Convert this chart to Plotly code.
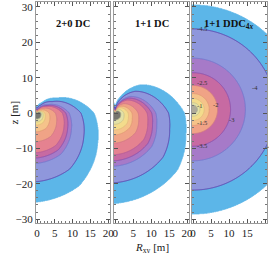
import numpy as np
import plotly.graph_objects as go

# ---------------- data ----------------
titles = ["2+0 DC", "1+1 DC", "1+1 DDC<sub>4<i>x</i></sub>"]
x_ticks = [0, 5, 10, 15, 20]
y_ticks = [-30, -20, -10, 0, 10, 20, 30]

# band colours, inner -> outer
band_colors = ['#76766f', '#e3e1a6', '#f3dc8c', '#f5c38a', '#f0a386',
               '#e58290', '#c76aa2', '#a67ac8', '#8f97dc', '#5cb6e8']
# contour line colours, inner -> outer boundary
line_colors = ['#a3a88e', '#c9c38c', '#e2bc7e', '#e09a76', '#d07a84',
               '#b45c96', '#8a50ac', '#7276cc', '#5a3aa8', '#5cb6e8']
p3_gray = '#aeaa9a'

# panel 1 (2+0 DC): outer contour, polar angle from -z axis (deg) and radius (m)
p1_phi = [0, 30, 63, 90, 127, 155, 180]
p1_rad = [25.0, 23.6, 19.0, 15.9, 6.9, 3.2, 1.8]
# contour intercepts on the -z axis (m), inner -> outer
p1_bottoms = [1.7, 2.5, 3.4, 5.3, 8.1, 11.2, 12.7, 14.2, 19.4, 25.1]

# panel 2 (1+1 DC)
p2_phi = [0, 47, 73, 90, 138, 159, 180]
p2_rad = [25.5, 23.6, 20.5, 19.2, 10.7, 5.5, 1.4]
p2_bottoms = [2.0, 3.2, 4.8, 6.2, 8.5, 11.8, 13.5, 15.0, 19.7, 25.5]

# panel 3 (1+1 DDC4x): circular contours about (0, z_c)
p3_center_z = 1.0
p3_radii = [1.2, 1.9, 3.1, 4.5, 6.8, 10.4, 14.5, 22.8, 29.5]
p3_band_idx = [0, 1, 2, 3, 4, 6, 7, 8, 9]   # which colours are used
p3_label_text = ["-4.5", "-2.5", "-1", "-1.5", "-3.5", "-2", "-3", "-4", "-4.5"]
p3_label_R = [0.6, 0.6, 0.6, 0.6, 0.6, 5.0, 9.5, 15.8, 19.6]
p3_label_z = [24.0, 8.5, 2.0, -2.6, -9.2, 2.3, -1.8, 7.3, -9.6]

# ---------------- grid ----------------
Rg = np.linspace(-0.4, 20.6, 241)
Zg = np.linspace(-31.5, 31.8, 601)
RR, ZZ = np.meshgrid(np.abs(Rg), Zg)


def field_polar(phi_t, rad_t, bottoms):
    r = np.hypot(RR, ZZ) + 1e-9
    phi = np.degrees(np.arctan2(RR, -ZZ))
    shape = np.interp(phi, phi_t, rad_t) / rad_t[0]
    reff = r / shape
    n = len(bottoms)
    return np.interp(reff, [0] + list(bottoms) + [1e4], [0] + list(range(1, n + 1)) + [n + 1]), n


def field_circle(zc, radii):
    r = np.hypot(RR, ZZ - zc)
    n = len(radii)
    return np.interp(r, [0] + list(radii) + [1e4], [0] + list(range(1, n + 1)) + [n + 1]), n


def scale(cols):
    m = len(cols) - 1
    return [[k / m, c] for k, c in enumerate(cols)]


p3_bands = [p3_gray] + [band_colors[i] for i in p3_band_idx[1:]]
fig = go.Figure()
panels = [
    field_polar(p1_phi, p1_rad, p1_bottoms) + (band_colors, line_colors),
    field_polar(p2_phi, p2_rad, p2_bottoms) + (band_colors, line_colors),
    field_circle(p3_center_z, p3_radii) + (p3_bands, [line_colors[i] for i in p3_band_idx]),
]
for i, (F, n, bcols, lcols) in enumerate(panels):
    xa = 'x' if i == 0 else f'x{i+1}'
    ya = 'y' if i == 0 else f'y{i+1}'
    fig.add_trace(go.Contour(
        x=Rg, y=Zg, z=F, xaxis=xa, yaxis=ya, autocontour=False,
        contours=dict(start=1, end=n, size=1, coloring='fill', showlines=False),
        colorscale=scale(bcols + ['#ffffff']), showscale=False,
        line=dict(width=0), hoverinfo='skip'))
    fig.add_trace(go.Contour(
        x=Rg, y=Zg, z=F, xaxis=xa, yaxis=ya, autocontour=False,
        contours=dict(start=1, end=n, size=1, coloring='lines'),
        colorscale=scale(lcols), showscale=False,
        line=dict(width=0.9), hoverinfo='skip'))

# ---------------- layout ----------------
font = "Liberation Serif"
axis_common = dict(
    showline=True, linecolor='#9a9a9a', linewidth=1, mirror='ticks',
    ticks='inside', ticklen=4, tickcolor='#555555', tickwidth=1,
    showgrid=False, zeroline=False, automargin=False,
    tickfont=dict(family=font, size=11, color='#222222'),
)
doms = [[0.0, 0.320], [0.338, 0.662], [0.675, 1.0]]
layout = dict(
    width=269, height=253, margin=dict(l=36, r=2, t=2, b=30, autoexpand=False),
    paper_bgcolor='white', plot_bgcolor='white', showlegend=False,
)
for i in range(3):
    sx = '' if i == 0 else str(i + 1)
    layout['xaxis' + sx] = dict(axis_common, domain=doms[i], range=[-0.3, 20.5],
                                tickvals=x_ticks, anchor='y' + sx,
                                minor=dict(ticks='inside', ticklen=2, dtick=1,
                                           tickcolor='#777777'))
    layout['yaxis' + sx] = dict(axis_common, range=[-31.1, 31.4], tickvals=y_ticks,
                                anchor='x' + sx, showticklabels=(i == 0),
                                minor=dict(ticks='inside', ticklen=2, dtick=2,
                                           tickcolor='#777777'))
    if i > 0:
        layout['yaxis' + sx]['matches'] = 'y'
fig.update_layout(**layout)

ann = []
for i, t in enumerate(titles):
    sx = '' if i == 0 else str(i + 1)
    ann.append(dict(text=f"<b>{t}</b>", xref=f'x{sx} domain', yref=f'y{sx} domain',
                    x=0.5, y=0.935, showarrow=False,
                    font=dict(family=font, size=10.5, color='#111111')))
for t, R, z in zip(p3_label_text, p3_label_R, p3_label_z):
    ann.append(dict(text=t, xref='x3', yref='y3', x=R, y=z, xanchor='left',
                    showarrow=False, font=dict(family=font, size=6.5, color='#333333')))
ann.append(dict(text="<i>R</i><sub>xy</sub> [m]", xref='paper', yref='paper',
                x=0.5, y=-0.072, yanchor='top', showarrow=False,
                font=dict(family=font, size=11, color='#222222')))
ann.append(dict(text="z [m]", xref='paper', yref='paper', x=-0.13, y=0.5,
                textangle=-90, showarrow=False,
                font=dict(family=font, size=11, color='#222222')))
fig.update_layout(annotations=ann)

fig.write_html("out.html", config={'displayModeBar': False},
               post_script="document.body.style.margin='0';document.body.style.padding='0';")
